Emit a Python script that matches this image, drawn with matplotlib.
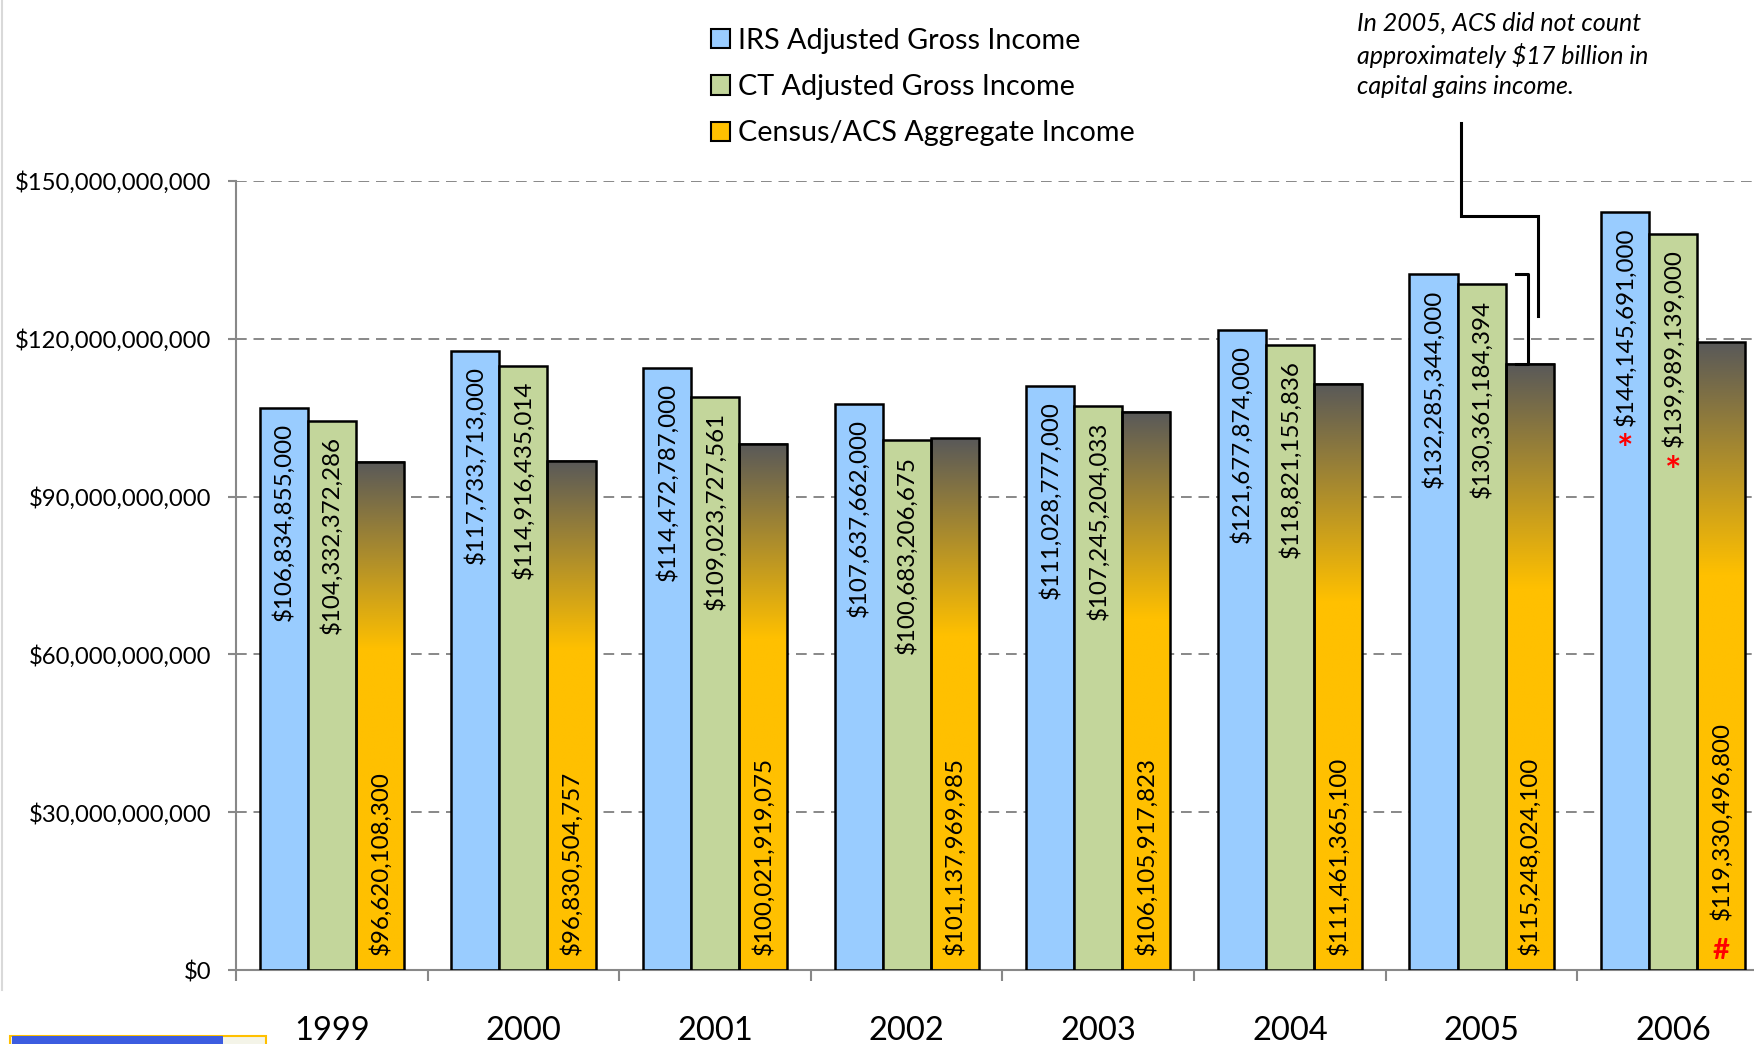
import numpy as np
import matplotlib.pyplot as plt
from matplotlib.patches import Patch, Rectangle
from matplotlib.lines import Line2D
from matplotlib.ticker import FuncFormatter, FixedLocator

plt.rcParams['font.family'] = ['Lato', 'DejaVu Sans']

# data
years = ['1999', '2000', '2001', '2002', '2003', '2004', '2005', '2006']
irs = [106834855000, 117733713000, 114472787000, 107637662000,
       111028777000, 121677874000, 132285344000, 144145691000]
ct = [104332372286, 114916435014, 109023727561, 100683206675,
      107245204033, 118821155836, 130361184394, 139989139000]
acs = [96620108300, 96830504757, 100021919075, 101137969985,
       106105917823, 111461365100, 115248024100, 119330496800]
series_names = ['IRS Adjusted Gross Income', 'CT Adjusted Gross Income',
                'Census/ACS Aggregate Income']
capital_gains_gap = 17e9

blue = '#99CCFF'
green = '#C3D69B'
gold = '#FFC000'
dark = '#595959'

W, H = 1754, 1044
fig = plt.figure(figsize=(W / 100, H / 100), dpi=100)
ax = fig.add_axes([236 / W, (H - 970) / H, (1769 - 236) / W, (970 - 181) / H])

x = np.arange(len(years))
bw = 0.251
lw = 1.8

ax.bar(x - bw, irs, bw, color=blue, edgecolor='black', linewidth=lw, zorder=3)
ax.bar(x, ct, bw, color=green, edgecolor='black', linewidth=lw, zorder=3)
acs_bars = ax.bar(x + bw, acs, bw, facecolor='none', edgecolor='black',
                  linewidth=lw, zorder=3)

# gold -> dark gray gradient inside the ACS bars
t = np.linspace(0, 1, 300)
c_gold = np.array([255, 192, 0]) / 255
c_dark = np.array([89, 89, 89]) / 255
k = np.clip((t - 0.63) / 0.37, 0, 1)[:, None]
grad = (c_gold * (1 - k) + c_dark * k)[:, None, :]
for b in acs_bars:
    x0 = b.get_x()
    ax.imshow(grad, extent=(x0, x0 + b.get_width(), 0, b.get_height()),
              origin='lower', aspect='auto', interpolation='bilinear', zorder=2)

ax.set_xlim(-0.5, len(years) - 0.5)
ax.set_ylim(0, 150e9)

# value labels
fs = 17.4
for i in range(len(years)):
    ax.annotate('${:,.0f}'.format(irs[i]), (x[i] - bw, irs[i]), xytext=(0, -11),
                textcoords='offset points', rotation=90, ha='center', va='top',
                fontsize=fs, zorder=5)
    ax.annotate('${:,.0f}'.format(ct[i]), (x[i], ct[i]), xytext=(0, -11),
                textcoords='offset points', rotation=90, ha='center', va='top',
                fontsize=fs, zorder=5)
    up = 36 if i == len(years) - 1 else 11
    ax.annotate('${:,.0f}'.format(acs[i]), (x[i] + bw, 0), xytext=(0, up),
                textcoords='offset points', rotation=90, ha='center', va='bottom',
                fontsize=fs, zorder=5)

# 2006 footnote marks
last = len(years) - 1
ax.annotate('*', (x[last] - bw, irs[last]), xytext=(0, -172), textcoords='offset points',
            ha='center', va='center', color='red', fontsize=28, fontweight='bold', zorder=5)
ax.annotate('*', (x[last], ct[last]), xytext=(0, -172), textcoords='offset points',
            ha='center', va='center', color='red', fontsize=28, fontweight='bold', zorder=5)
ax.annotate('#', (x[last] + bw, 0), xytext=(0, 14), textcoords='offset points',
            ha='center', va='center', color='red', fontsize=21, fontweight='bold', zorder=5)

# 2005 callout
i5 = years.index('2005')
ax.plot([5.893, 5.893, 6.295, 6.295], [161e9, 143.3e9, 143.3e9, 124.3e9],
        color='black', lw=2.2, clip_on=False, zorder=6, solid_joinstyle='miter')
ax.plot([6.181, 6.243, 6.243, 6.181],
        [acs[i5] + capital_gains_gap, acs[i5] + capital_gains_gap, acs[i5], acs[i5]],
        color='black', lw=2.2, clip_on=False, zorder=6)
fig.text(1357 / W, 1 - 12 / H, 'In 2005, ACS did not count\napproximately $17 billion in\ncapital gains income.',
         style='italic', fontsize=18, va='top', ha='left', linespacing=1.38)

# axes styling
ax.yaxis.set_major_formatter(FuncFormatter(lambda v, p: '${:,.0f}'.format(v)))
ax.set_yticks(np.arange(0, 150e9 + 1, 30e9))
ax.grid(axis='y', color='#888888', lw=1.4, dashes=(5.5, 3.5), zorder=0)
ax.set_axisbelow(True)
for s in ['top', 'right']:
    ax.spines[s].set_visible(False)
for s in ['left', 'bottom']:
    ax.spines[s].set_color('#888888')
    ax.spines[s].set_linewidth(1.5)
ax.tick_params(axis='y', length=6, width=1.5, color='#888888', pad=12, labelsize=17.2)
ax.set_xticks(x)
ax.set_xticklabels(years)
ax.xaxis.set_minor_locator(FixedLocator(np.arange(-0.5, len(years), 1)))
ax.tick_params(axis='x', which='major', length=0, pad=33, labelsize=23.5)
ax.tick_params(axis='x', which='minor', length=8, width=1.5, color='#888888')

# legend
handles = [Patch(facecolor=c, edgecolor='black', linewidth=1.5) for c in (blue, green, gold)]
fig.legend(handles, series_names, loc='upper left', bbox_to_anchor=(711 / W, 1 - 28 / H),
           frameon=False, fontsize=20.7, handlelength=0.65, handleheight=0.65,
           handletextpad=0.3, labelspacing=0.7, borderpad=0, borderaxespad=0)

# page artefacts
fig.add_artist(Line2D([2 / W, 2 / W], [(H - 990) / H, 1], color='#d9d9d9', lw=1.5))
fig.add_artist(Rectangle((10 / W, (H - 1046) / H), 256 / W, 10 / H, facecolor='#f4f4e8',
                         edgecolor=gold, lw=1.5, transform=fig.transFigure))
fig.add_artist(Rectangle((12 / W, (H - 1046) / H), 211 / W, 10 / H, facecolor='#3C5CE0',
                         edgecolor='none', transform=fig.transFigure))

fig.savefig('out.png', dpi=100)
